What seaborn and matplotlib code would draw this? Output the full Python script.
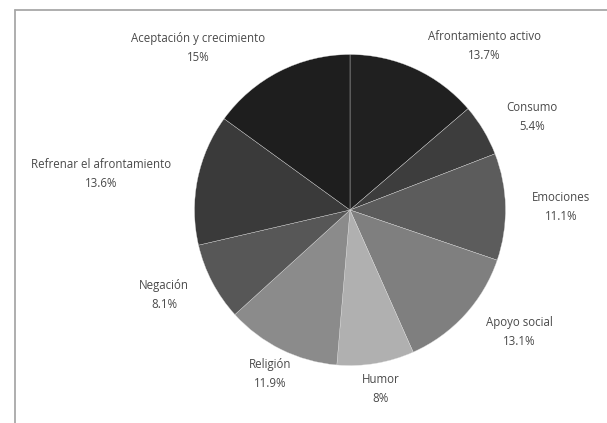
import matplotlib
matplotlib.use("Agg")
import matplotlib.pyplot as plt
from matplotlib.lines import Line2D
import seaborn as sns

# ---- data ----
categories = ["Afrontamiento activo", "Consumo", "Emociones", "Apoyo social",
              "Humor", "Religión", "Negación", "Refrenar el afrontamiento",
              "Aceptación y crecimiento"]
values = [13.7, 5.4, 11.1, 13.1, 8.0, 11.9, 8.1, 13.6, 15.0]
pct_labels = ["13.7%", "5.4%", "11.1%", "13.1%", "8%", "11.9%", "8.1%", "13.6%", "15%"]

# ---- styles / layout ----
colors = ["#202020", "#3d3d3d", "#5c5c5c", "#7f7f7f", "#b0b0b0",
          "#8b8b8b", "#575757", "#3a3a3a", "#1e1e1e"]
label_pos = [(0.862, 1.055), (1.170, 0.598), (1.357, 0.019), (1.087, -0.785),
             (0.199, -1.151), (-0.514, -1.055), (-1.196, -0.547),
             (-1.601, 0.232), (-0.977, 1.042)]

sns.set_theme(style="white")
plt.rcParams['font.family'] = ['Open Sans', 'DejaVu Sans']

W, H = 607, 423
fig = plt.figure(figsize=(W / 100, H / 100), dpi=100)
ax = fig.add_axes([0, 0, 1, 1])

cx, cy, R = 350, 210, 155.5
ax.pie(values, colors=colors, startangle=90, counterclock=False,
       radius=1.0, wedgeprops=dict(edgecolor="#dddddd", linewidth=0.25))
ax.set_aspect('auto')
ax.set_xlim(-cx / R, (W - cx) / R)
ax.set_ylim(-(H - cy) / R, cy / R)
ax.axis('off')

for name, pct, (x, y) in zip(categories, pct_labels, label_pos):
    ax.text(x, y, f"{name}\n{pct}", ha="center", va="center",
            fontsize=8.3, color="#4a4a4a", linespacing=1.55)

# partial frame (top and left)
fig.add_artist(Line2D([15 / W, 1], [1 - 10.5 / H] * 2, transform=fig.transFigure,
                      color="#a8a8a8", lw=1.3))
fig.add_artist(Line2D([15 / W] * 2, [0, 1 - 10.5 / H], transform=fig.transFigure,
                      color="#a8a8a8", lw=1.3))

fig.savefig("out.png", dpi=100, facecolor="white")
